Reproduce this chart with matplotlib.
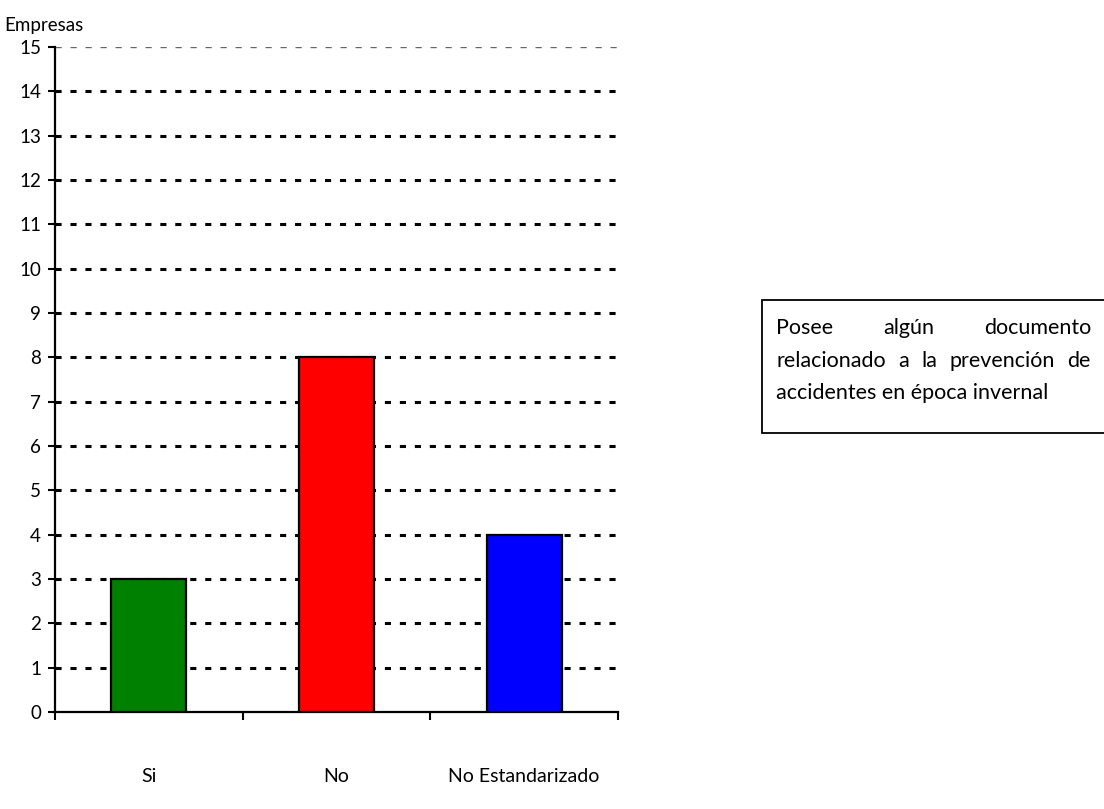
import matplotlib.pyplot as plt
from matplotlib.patches import Rectangle

# datos
categorias = ['Si', 'No', 'No Estandarizado']
empresas = [3, 8, 4]
colores = ['#008000', '#FF0000', '#0000FF']
yticks = list(range(0, 16))
lineas_cuadro = ['Posee algún documento',
                 'relacionado a la prevención de',
                 'accidentes en época invernal']

plt.rcParams['font.family'] = ['Lato', 'DejaVu Sans']

W, H = 1104, 809
fig = plt.figure(figsize=(W / 100, H / 100), dpi=100)
ax = fig.add_axes([0.0498, 0.1199, 0.51, 0.822])

x = range(len(categorias))
ax.bar(x, empresas, width=0.4, color=colores, edgecolor='black', linewidth=1.6, zorder=3)

# lineas de division
for v in yticks[1:-1]:
    ax.axhline(v, color='black', linewidth=2.2, linestyle=(0, (2, 2.9)), zorder=1)
ax.axhline(yticks[-1], color='#666666', linewidth=1.0, linestyle=(0, (4.5, 6.3)), zorder=1)

ax.set_xlim(-0.5, 2.5)
ax.set_ylim(0, 15)
ax.set_yticks(yticks)
ax.set_xticks([-0.5, 0.5, 1.5, 2.5])
ax.set_xticklabels([])
ax.set_xticks(list(x), minor=True)
ax.set_xticklabels(categorias, minor=True)
ax.tick_params(axis='x', which='minor', length=0, pad=40, labelsize=14)
ax.tick_params(axis='x', which='major', length=6, width=1.5, direction='out')
ax.tick_params(axis='y', length=5, width=1.5, direction='out', labelsize=13.5, pad=5)

for s in ['top', 'right']:
    ax.spines[s].set_visible(False)
for s in ['left', 'bottom']:
    ax.spines[s].set_linewidth(1.6)

fig.text(0.004, 0.969, 'Empresas', fontsize=13.5, ha='left', va='center')

# cuadro de texto
fig.patches.append(Rectangle((762 / W, 1 - 433 / H), 0.5, 133 / H,
                             transform=fig.transFigure, facecolor='white',
                             edgecolor='black', linewidth=1.3))
fs = 15.5
x0, x1 = 776, 1091
ys = [328, 361, 393]
renderer = fig.canvas.get_renderer()
for i, (linea, yy) in enumerate(zip(lineas_cuadro, ys)):
    if i == len(lineas_cuadro) - 1:
        fig.text(x0 / W, 1 - yy / H, linea, fontsize=fs, ha='left', va='center')
        continue
    palabras = linea.split()
    textos = [fig.text(0, 1 - yy / H, p, fontsize=fs, ha='left', va='center') for p in palabras]
    anchos = [t.get_window_extent(renderer).width for t in textos]
    hueco = (x1 - x0 - sum(anchos)) / (len(palabras) - 1)
    pos = x0
    for t, a in zip(textos, anchos):
        t.set_x(pos / W)
        pos += a + hueco

fig.savefig('out.png', dpi=100)
